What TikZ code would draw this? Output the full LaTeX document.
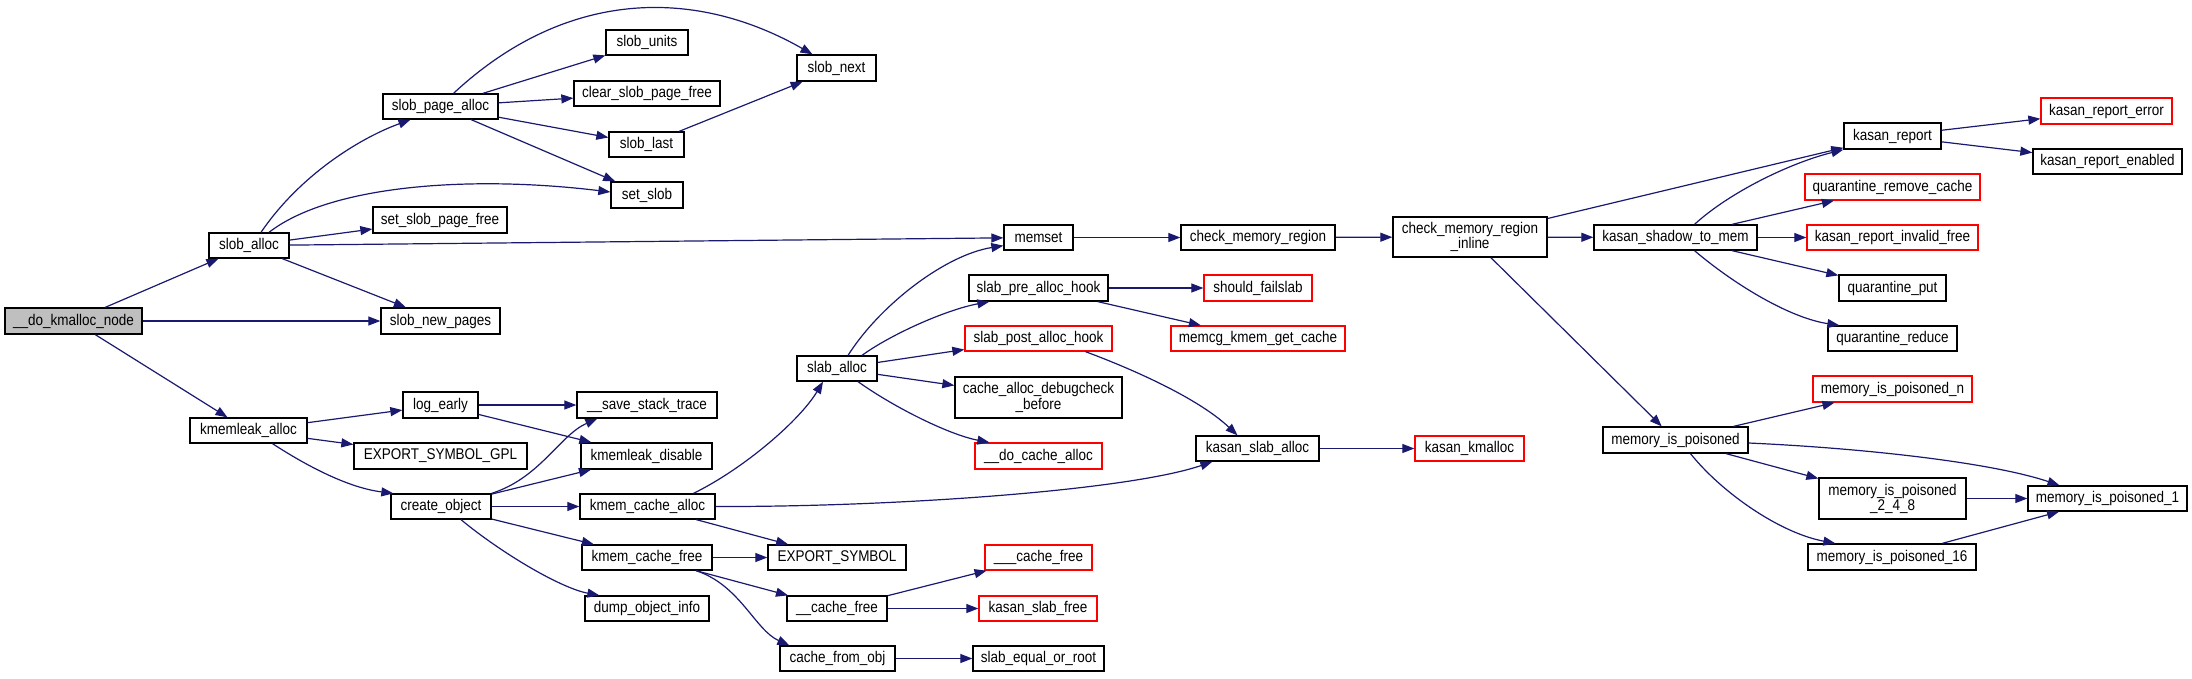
\documentclass[tikz,border=0pt]{standalone}
\usepackage{fontspec}
\setmainfont{Liberation Sans}[FakeStretch=0.87]
\usetikzlibrary{arrows.meta}
\definecolor{edgec}{RGB}{25,25,112}
\definecolor{fillg}{RGB}{191,191,191}
\definecolor{redb}{RGB}{255,0,0}
\tikzset{
  fn/.style={draw=black, fill=white, line width=1.3pt, inner sep=0pt,
    font=\fontsize{15.5}{13.5}\selectfont, align=center},
  fnred/.style={fn, draw=redb},
  fnroot/.style={fn, fill=fillg},
  call/.style={draw=edgec, line width=1.2pt, -{Triangle[length=12pt,width=9pt]}},
}
\newcommand{\fnode}[7]{%
  \node[#1, minimum width={#5-#3}, minimum height={#6-#4}] (#2) at ({(#3+#5)/2},{(#4+#6)/2}) {#7};}
\begin{document}
\begin{tikzpicture}[x=1pt, y=-1pt]
\useasboundingbox (0,0) rectangle (2192,678);
% nodes
\fnode{fnroot}{dkn}{5}{308}{142}{334}{\_\_do\_kmalloc\_node}
\fnode{fn}{sa}{209}{233}{289}{258}{slob\_alloc}
\fnode{fn}{spa}{383}{94}{498}{119}{slob\_page\_alloc}
\fnode{fn}{su}{606}{30}{688}{55}{slob\_units}
\fnode{fn}{cspf}{574}{81}{720}{106}{clear\_slob\_page\_free}
\fnode{fn}{sl}{609}{132}{684}{157}{slob\_last}
\fnode{fn}{ss}{611}{182}{683}{208}{set\_slob}
\fnode{fn}{sspf}{373}{207}{507}{233}{set\_slob\_page\_free}
\fnode{fn}{snp}{381}{308}{500}{334}{slob\_new\_pages}
\fnode{fn}{sn}{797}{55}{876}{81}{slob\_next}
\fnode{fn}{ka}{190}{418}{307}{443}{kmemleak\_alloc}
\fnode{fn}{le}{403}{392}{478}{418}{log\_early}
\fnode{fn}{esg}{354}{443}{527}{469}{EXPORT\_SYMBOL\_GPL}
\fnode{fn}{co}{391}{494}{491}{519}{create\_object}
\fnode{fn}{sst}{577}{392}{717}{418}{\_\_save\_stack\_trace}
\fnode{fn}{kd}{581}{443}{712}{469}{kmemleak\_disable}
\fnode{fn}{kca}{580}{494}{715}{519}{kmem\_cache\_alloc}
\fnode{fn}{kcf}{582}{545}{712}{570}{kmem\_cache\_free}
\fnode{fn}{doi}{585}{596}{709}{621}{dump\_object\_info}
\fnode{fn}{ms}{1004}{225}{1073}{250}{memset}
\fnode{fn}{cmr}{1181}{225}{1335}{250}{check\_memory\_region}
\fnode{fn}{cmri}{1393}{217}{1547}{257}{check\_memory\_region\\\_inline}
\fnode{fn}{spah}{969}{275}{1108}{301}{slab\_pre\_alloc\_hook}
\fnode{fnred}{sf}{1204}{275}{1312}{301}{should\_failslab}
\fnode{fnred}{spoah}{965}{326}{1112}{351}{slab\_post\_alloc\_hook}
\fnode{fnred}{mkgc}{1171}{326}{1345}{351}{memcg\_kmem\_get\_cache}
\fnode{fn}{slab}{797}{356}{877}{381}{slab\_alloc}
\fnode{fn}{cadb}{955}{377}{1122}{418}{cache\_alloc\_debugcheck\\\_before}
\fnode{fnred}{dca}{975}{443}{1102}{469}{\_\_do\_cache\_alloc}
\fnode{fn}{ksa}{1196}{436}{1319}{461}{kasan\_slab\_alloc}
\fnode{fnred}{kk}{1415}{436}{1524}{461}{kasan\_kmalloc}
\fnode{fn}{es}{768}{545}{906}{570}{EXPORT\_SYMBOL}
\fnode{fnred}{tcf}{985}{545}{1092}{570}{\_\_\_cache\_free}
\fnode{fn}{cf}{787}{596}{887}{621}{\_\_cache\_free}
\fnode{fnred}{ksf}{979}{596}{1097}{621}{kasan\_slab\_free}
\fnode{fn}{cfo}{780}{646}{895}{671}{cache\_from\_obj}
\fnode{fn}{seor}{973}{646}{1104}{671}{slab\_equal\_or\_root}
\fnode{fn}{kstm}{1594}{225}{1757}{250}{kasan\_shadow\_to\_mem}
\fnode{fn}{kr}{1844}{123}{1941}{149}{kasan\_report}
\fnode{fnred}{kre}{2041}{98}{2172}{124}{kasan\_report\_error}
\fnode{fn}{kren}{2033}{149}{2182}{174}{kasan\_report\_enabled}
\fnode{fnred}{qrc}{1805}{174}{1980}{200}{quarantine\_remove\_cache}
\fnode{fnred}{krif}{1807}{225}{1978}{250}{kasan\_report\_invalid\_free}
\fnode{fn}{qp}{1839}{275}{1946}{301}{quarantine\_put}
\fnode{fn}{qr}{1828}{326}{1957}{351}{quarantine\_reduce}
\fnode{fnred}{mipn}{1813}{376}{1972}{402}{memory\_is\_poisoned\_n}
\fnode{fn}{mip}{1603}{427}{1748}{453}{memory\_is\_poisoned}
\fnode{fn}{mip248}{1819}{478}{1966}{519}{memory\_is\_poisoned\\\_2\_4\_8}
\fnode{fn}{mip1}{2028}{486}{2187}{511}{memory\_is\_poisoned\_1}
\fnode{fn}{mip16}{1808}{544}{1976}{570}{memory\_is\_poisoned\_16}
% edges
\draw[call] (dkn) -- (sa);
\draw[call] (dkn) -- (snp);
\draw[call] (dkn) -- (ka);
\draw[call] ([xshift=12pt]sa.north) .. controls (300,175) and (360,138) .. ([xshift=-30pt]spa.south);
\draw[call] ([xshift=20pt]sa.north) .. controls (330,185) and (470,175) .. ([yshift=3pt]ss.west);
\draw[call] (sa) -- (sspf);
\draw[call] (sa) -- (ms);
\draw[call] (sa) -- (snp);
\draw[call] ([xshift=13pt]spa.north) .. controls (570,-15) and (700,-10) .. ([xshift=-24pt]sn.north);
\draw[call] (spa) -- (su);
\draw[call] (spa) -- (cspf);
\draw[call] (spa) -- (sl);
\draw[call] (spa) -- (ss);
\draw[call] (sl) -- (sn);
\draw[call] (ka) -- (le);
\draw[call] (ka) -- (esg);
\draw[call] ([xshift=24pt]ka.south) .. controls (310,468) and (350,488) .. ([xshift=3pt]co.north west);
\draw[call] (le) -- (sst);
\draw[call] (le) -- (kd);
\draw[call] (co.north east) .. controls (540,478) and (560,435) .. ([xshift=21pt]sst.south west);
\draw[call] (co) -- (kd);
\draw[call] (co) -- (kca);
\draw[call] (co) -- (kcf);
\draw[call] ([xshift=20pt]co.south) .. controls (500,552) and (560,588) .. ([xshift=15pt]doi.north west);
\draw[call] ([xshift=46pt]kca.north) .. controls (745,468) and (800,420) .. ([xshift=-14pt]slab.south);
\draw[call] (kca.east) .. controls (900,507) and (1130,490) .. ([xshift=17pt]ksa.south west);
\draw[call] (kca) -- (es);
\draw[call] (kcf) -- (es);
\draw[call] (kcf) -- (cf);
\draw[call] ([xshift=49pt]kcf.south) .. controls (740,585) and (755,630) .. ([xshift=10pt]cfo.north west);
\draw[call] ([xshift=11pt]slab.north) .. controls (880,305) and (945,255) .. ([yshift=5pt]ms.south west);
\draw[call] ([xshift=25pt]slab.north) .. controls (890,335) and (945,310) .. ([xshift=21pt]spah.south west);
\draw[call] (slab) -- (spoah);
\draw[call] (slab) -- (cadb);
\draw[call] ([xshift=21pt]slab.south) .. controls (895,408) and (950,435) .. ([xshift=15pt]dca.north west);
\draw[call] (spah) -- (sf);
\draw[call] (spah) -- (mkgc);
\draw[call] ([xshift=47pt]spoah.south) .. controls (1140,372) and (1200,400) .. ([xshift=-20pt]ksa.north);
\draw[call] (ksa) -- (kk);
\draw[call] (cf) -- (tcf);
\draw[call] (cf) -- (ksf);
\draw[call] (cfo) -- (seor);
\draw[call] (ms) -- (cmr);
\draw[call] (cmr) -- (cmri);
\draw[call] (cmri) -- (kr);
\draw[call] (cmri) -- (kstm);
\draw[call] (cmri) -- (mip);
\draw[call] ([xshift=19pt]kstm.north) .. controls (1730,192) and (1790,163) .. (kr.south west);
\draw[call] (kstm) -- (qrc);
\draw[call] (kstm) -- (krif);
\draw[call] (kstm) -- (qp);
\draw[call] ([xshift=19pt]kstm.south) .. controls (1735,285) and (1790,318) .. ([xshift=12pt]qr.north west);
\draw[call] (kr) -- (kre);
\draw[call] (kr) -- (kren);
\draw[call] (mip) -- (mipn);
\draw[call] ([yshift=-3pt]mip.east) .. controls (1860,448) and (1990,462) .. ([xshift=-48pt]mip1.north);
\draw[call] (mip) -- (mip248);
\draw[call] ([xshift=15pt]mip.south) .. controls (1722,493) and (1780,533) .. ([xshift=28pt]mip16.north west);
\draw[call] (mip248) -- (mip1);
\draw[call] (mip16) -- (mip1);
\end{tikzpicture}
\end{document}
